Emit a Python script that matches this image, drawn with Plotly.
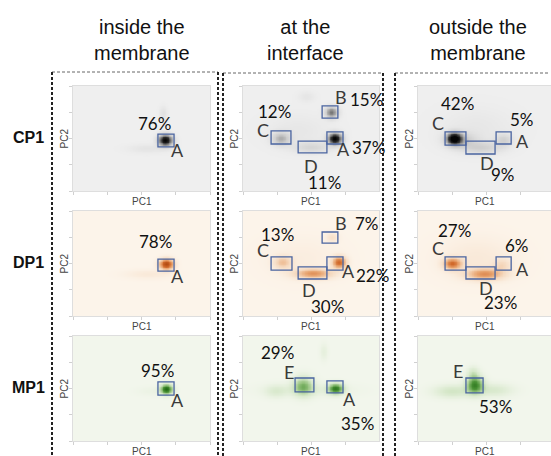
import numpy as np
import plotly.graph_objects as go

# ---------------------------------------------------------------- data
COLUMN_TITLES = ["inside the<br>membrane", "at the<br>interface", "outside the<br>membrane"]
ROW_NAMES = ["CP1", "DP1", "MP1"]
AXIS_X_TITLE = "PC1"
AXIS_Y_TITLE = "PC2"

# colour ramps (low density -> high density) for each peptide
CP1_RAMP = ["#efefef", "#cdcdcd", "#8a8a8a", "#2e2e2e", "#050505"]
DP1_RAMP = ["#fcf4ea", "#f5d9bf", "#e8a571", "#d16a2c", "#b44c12"]
MP1_RAMP = ["#f2f6ec", "#d3e6c6", "#95c27e", "#4a9236", "#236b17"]

# density clusters in PC space: (PC1, PC2, spread PC1, spread PC2, weight)
BLOBS_CP1_INSIDE = [(2.69, 1.94, 0.14, 0.15, 1.00), (2.63, 2.97, 0.08, 0.18, 0.10),
                    (2.15, 1.62, 0.40, 0.12, 0.08)]
BLOBS_CP1_INTERFACE = [(2.68, 2.00, 0.14, 0.15, 1.00), (2.58, 3.00, 0.13, 0.15, 0.55),
                       (1.10, 2.00, 0.18, 0.17, 0.33), (2.00, 1.66, 0.38, 0.15, 0.17),
                       (1.85, 3.60, 0.17, 0.14, 0.07), (1.60, 2.30, 0.65, 0.45, 0.06)]
BLOBS_CP1_OUTSIDE = [(1.05, 2.00, 0.15, 0.16, 1.00), (1.25, 1.95, 0.32, 0.20, 0.22),
                     (1.85, 1.65, 0.42, 0.16, 0.20), (2.50, 1.95, 0.17, 0.16, 0.20),
                     (1.70, 2.40, 0.75, 0.55, 0.06)]
BLOBS_DP1_INSIDE = [(2.72, 1.98, 0.14, 0.14, 1.00), (2.20, 1.60, 0.48, 0.12, 0.10)]
BLOBS_DP1_INTERFACE = [(2.80, 2.05, 0.14, 0.16, 0.75), (2.05, 1.62, 0.38, 0.13, 0.55),
                       (1.15, 2.05, 0.18, 0.17, 0.33), (2.60, 3.00, 0.12, 0.12, 0.18),
                       (1.70, 2.20, 0.75, 0.55, 0.06)]
BLOBS_DP1_OUTSIDE = [(1.00, 2.00, 0.18, 0.15, 0.70), (1.95, 1.60, 0.38, 0.15, 0.55),
                     (2.45, 1.95, 0.17, 0.16, 0.20), (1.70, 2.20, 0.75, 0.55, 0.10)]
BLOBS_MP1_INSIDE = [(2.72, 1.98, 0.12, 0.13, 1.00), (2.30, 1.90, 0.32, 0.12, 0.05)]
BLOBS_MP1_INTERFACE = [(1.75, 2.10, 0.20, 0.25, 0.55), (2.70, 2.00, 0.15, 0.14, 0.85),
                       (0.95, 1.90, 0.22, 0.17, 0.15), (2.35, 3.40, 0.08, 0.22, 0.10),
                       (1.90, 1.95, 0.85, 0.17, 0.10)]
BLOBS_MP1_OUTSIDE = [(1.65, 2.15, 0.17, 0.23, 0.80), (1.00, 1.90, 0.38, 0.17, 0.25),
                     (2.20, 1.95, 0.38, 0.17, 0.20), (1.60, 2.60, 0.12, 0.17, 0.20)]

# gating boxes: (PC1 from, PC1 to, PC2 from, PC2 to)
BOXES_CP1_INSIDE = [(2.48, 2.95, 1.68, 2.17)]
BOXES_CP1_INTERFACE = [(2.31, 2.77, 2.78, 3.24), (2.45, 2.92, 1.79, 2.25),
                       (0.82, 1.40, 1.79, 2.29), (1.61, 2.45, 1.45, 1.90)]
BOXES_CP1_OUTSIDE = [(0.79, 1.40, 1.75, 2.25), (1.40, 2.25, 1.41, 1.90), (2.28, 2.72, 1.79, 2.25)]
BOXES_DP1_INSIDE = [(2.48, 2.95, 1.71, 2.17)]
BOXES_DP1_INTERFACE = [(2.31, 2.77, 2.78, 3.20), (0.82, 1.43, 1.75, 2.25),
                       (1.61, 2.45, 1.41, 1.87), (2.45, 2.92, 1.75, 2.25)]
BOXES_DP1_OUTSIDE = [(0.79, 1.40, 1.75, 2.25), (1.40, 2.25, 1.41, 1.87), (2.28, 2.72, 1.75, 2.25)]
BOXES_MP1_INSIDE = [(2.48, 2.95, 1.75, 2.25)]
BOXES_MP1_INTERFACE = [(1.52, 2.07, 1.87, 2.40), (2.45, 2.92, 1.83, 2.29)]
BOXES_MP1_OUTSIDE = [(1.40, 1.90, 1.83, 2.40)]

# cluster letters: (text, PC1, PC2)
LETTERS_CP1_INSIDE = [("A", 3.04, 1.56)]
LETTERS_CP1_INTERFACE = [("B", 2.86, 3.58), ("C", 0.58, 2.32), ("A", 2.92, 1.60), ("D", 1.99, 0.95)]
LETTERS_CP1_OUTSIDE = [("C", 0.58, 2.59), ("A", 3.04, 1.90), ("D", 2.01, 1.07)]
LETTERS_DP1_INSIDE = [("A", 3.04, 1.52)]
LETTERS_DP1_INTERFACE = [("B", 2.86, 3.54), ("C", 0.58, 2.51), ("A", 3.07, 1.71), ("D", 1.93, 0.99)]
LETTERS_DP1_OUTSIDE = [("C", 0.58, 2.59), ("A", 3.04, 1.79), ("D", 1.99, 1.07)]
LETTERS_MP1_INSIDE = [("A", 3.04, 1.56)]
LETTERS_MP1_INTERFACE = [("E", 1.34, 2.63), ("A", 3.12, 1.60)]
LETTERS_MP1_OUTSIDE = [("E", 1.17, 2.67)]

# cluster populations: (text, PC1, PC2)
SHARES_CP1_INSIDE = [("76%", 2.37, 2.59)]
SHARES_CP1_INTERFACE = [("15%", 3.62, 3.50), ("12%", 0.93, 3.01), ("37%", 3.65, 1.64), ("11%", 2.39, 0.34)]
SHARES_CP1_OUTSIDE = [("42%", 1.14, 3.35), ("5%", 3.04, 2.74), ("9%", 2.48, 0.61)]
SHARES_DP1_INSIDE = [("78%", 2.42, 2.82)]
SHARES_DP1_INTERFACE = [("7%", 3.62, 3.54), ("13%", 1.02, 3.09), ("22%", 3.77, 1.56), ("30%", 2.48, 0.38)]
SHARES_DP1_OUTSIDE = [("27%", 1.08, 3.24), ("6%", 2.89, 2.67), ("23%", 2.42, 0.53)]
SHARES_MP1_INSIDE = [("95%", 2.48, 2.70)]
SHARES_MP1_INTERFACE = [("29%", 1.02, 3.39), ("35%", 3.33, 0.65)]
SHARES_MP1_OUTSIDE = [("53%", 2.25, 1.30)]

# ---------------------------------------------------------------- layout geometry (pixels)
W, H = 551, 456
PANEL_LEFT = [73, 243, 418]
PANEL_RIGHT = [210, 379, 551]
PANEL_TOP = [86, 211, 336]
PANEL_HEIGHT = 105
PX_PER_UNIT = 137 / 4.0
COL_TITLE_X = [142, 305, 478]
ROW_LABEL_X = 28
FRAME_LEFT = [52, 223, 395]
FRAME_RIGHT = [218, 383, None]
FRAME_TOP = [72, 73, 73]

RAMPS = [CP1_RAMP, DP1_RAMP, MP1_RAMP]
BLOBS = [[BLOBS_CP1_INSIDE, BLOBS_CP1_INTERFACE, BLOBS_CP1_OUTSIDE],
         [BLOBS_DP1_INSIDE, BLOBS_DP1_INTERFACE, BLOBS_DP1_OUTSIDE],
         [BLOBS_MP1_INSIDE, BLOBS_MP1_INTERFACE, BLOBS_MP1_OUTSIDE]]
BOXES = [[BOXES_CP1_INSIDE, BOXES_CP1_INTERFACE, BOXES_CP1_OUTSIDE],
         [BOXES_DP1_INSIDE, BOXES_DP1_INTERFACE, BOXES_DP1_OUTSIDE],
         [BOXES_MP1_INSIDE, BOXES_MP1_INTERFACE, BOXES_MP1_OUTSIDE]]
LETTERS = [[LETTERS_CP1_INSIDE, LETTERS_CP1_INTERFACE, LETTERS_CP1_OUTSIDE],
           [LETTERS_DP1_INSIDE, LETTERS_DP1_INTERFACE, LETTERS_DP1_OUTSIDE],
           [LETTERS_MP1_INSIDE, LETTERS_MP1_INTERFACE, LETTERS_MP1_OUTSIDE]]
SHARES = [[SHARES_CP1_INSIDE, SHARES_CP1_INTERFACE, SHARES_CP1_OUTSIDE],
          [SHARES_DP1_INSIDE, SHARES_DP1_INTERFACE, SHARES_DP1_OUTSIDE],
          [SHARES_MP1_INSIDE, SHARES_MP1_INTERFACE, SHARES_MP1_OUTSIDE]]


def px(x):
    return x / W


def py(y):
    return 1 - y / H


def ramp_scale(colors):
    n = len(colors) - 1
    return [[i / n, c] for i, c in enumerate(colors)]


def density(blobs, xs, ys):
    X, Y = np.meshgrid(xs, ys)
    z = np.zeros_like(X)
    for cx, cy, sx, sy, w in blobs:
        z += w * np.exp(-((X - cx) ** 2 / (2 * sx ** 2) + (Y - cy) ** 2 / (2 * sy ** 2)))
    return np.clip(z, 0, 1)


fig = go.Figure()
shapes = []
annotations = []
layout_axes = {}

TEXT_FONT = "Lato, 'Open Sans', sans-serif"
SANS = "'Liberation Sans', Arial, sans-serif"
CENTER = dict(xanchor="center", yanchor="middle", showarrow=False)

for r in range(3):
    for c in range(3):
        idx = r * 3 + c + 1
        xa = "x" if idx == 1 else f"x{idx}"
        ya = "y" if idx == 1 else f"y{idx}"
        xmax = (PANEL_RIGHT[c] - PANEL_LEFT[c]) / PX_PER_UNIT
        xs = np.linspace(0, xmax, 180)
        ys = np.linspace(0, 4, 140)
        z = density(BLOBS[r][c], xs, ys)
        fig.add_trace(go.Heatmap(
            x=xs, y=ys, z=z, zmin=0, zmax=1, zsmooth="best",
            colorscale=ramp_scale(RAMPS[r]), showscale=False,
            hoverinfo="skip", xaxis=xa, yaxis=ya))

        top = PANEL_TOP[r]
        bottom = top + PANEL_HEIGHT
        axis_common = dict(showgrid=False, zeroline=False, showticklabels=False,
                           ticks="outside", ticklen=3, tickcolor="#d0d0d0",
                           showline=True, linecolor="#dedede", linewidth=1, mirror=True,
                           fixedrange=True)
        layout_axes["xaxis" if idx == 1 else f"xaxis{idx}"] = dict(
            axis_common, domain=[px(PANEL_LEFT[c]), px(PANEL_RIGHT[c])],
            range=[0, xmax], tickvals=[0, 1, 2, 3, 4], anchor=ya)
        layout_axes["yaxis" if idx == 1 else f"yaxis{idx}"] = dict(
            axis_common, domain=[py(bottom), py(top)],
            range=[0, 4], tickvals=[0, 1, 2, 3, 4], anchor=xa)

        for x0, x1, y0, y1 in BOXES[r][c]:
            shapes.append(dict(type="rect", xref=xa, yref=ya, x0=x0, x1=x1, y0=y0, y1=y1,
                               line=dict(color="#4a64a0", width=1.3)))
        for t, x, y in LETTERS[r][c]:
            annotations.append(dict(CENTER, text=t, x=x, y=y, xref=xa, yref=ya,
                                    font=dict(family=TEXT_FONT, size=18, color="#3a3a3a")))
        for t, x, y in SHARES[r][c]:
            annotations.append(dict(CENTER, text=t, x=x, y=y, xref=xa, yref=ya,
                                    font=dict(family=TEXT_FONT, size=17, color="#111111")))

        # axis names
        annotations.append(dict(CENTER, text=AXIS_X_TITLE, xref="paper", yref="paper",
                                x=px((PANEL_LEFT[c] + min(PANEL_RIGHT[c], PANEL_LEFT[c] + 137)) / 2),
                                y=py(bottom + 10),
                                font=dict(family=SANS, size=10, color="#444444")))
        annotations.append(dict(CENTER, text=AXIS_Y_TITLE, xref="paper", yref="paper",
                                x=px(PANEL_LEFT[c] - 9), y=py(top + PANEL_HEIGHT / 2),
                                textangle=-90,
                                font=dict(family=SANS, size=10, color="#444444")))

# column headings
for c, title in enumerate(COLUMN_TITLES):
    annotations.append(dict(CENTER, text=title, xref="paper", yref="paper", x=px(COL_TITLE_X[c]),
                            y=py(40), align="center",
                            font=dict(family=SANS, size=20, color="#111111")))

# row headings
for r, name in enumerate(ROW_NAMES):
    annotations.append(dict(CENTER, text=f"<b>{name}</b>", xref="paper", yref="paper",
                            x=px(ROW_LABEL_X), y=py(PANEL_TOP[r] + PANEL_HEIGHT / 2 - 1),
                            font=dict(family=SANS, size=16, color="#111111")))

# dashed column frames
for c in range(3):
    left = FRAME_LEFT[c]
    right = FRAME_RIGHT[c] if FRAME_RIGHT[c] is not None else W - 3
    top = FRAME_TOP[c]
    shapes.append(dict(type="line", xref="paper", yref="paper", x0=px(left), x1=px(right),
                       y0=py(top), y1=py(top), line=dict(color="#666666", width=1, dash="3px,2px")))
    for xv in [left, FRAME_RIGHT[c]]:
        if xv is None:
            continue
        shapes.append(dict(type="line", xref="paper", yref="paper", x0=px(xv), x1=px(xv),
                           y0=py(top), y1=-0.02,
                           line=dict(color="#222222", width=2, dash="3px,2px")))

fig.update_layout(width=W, height=H, margin=dict(l=0, r=0, t=0, b=0),
                  paper_bgcolor="white", plot_bgcolor="white",
                  shapes=shapes, annotations=annotations, showlegend=False, **layout_axes)

fig.write_html("out.html")
